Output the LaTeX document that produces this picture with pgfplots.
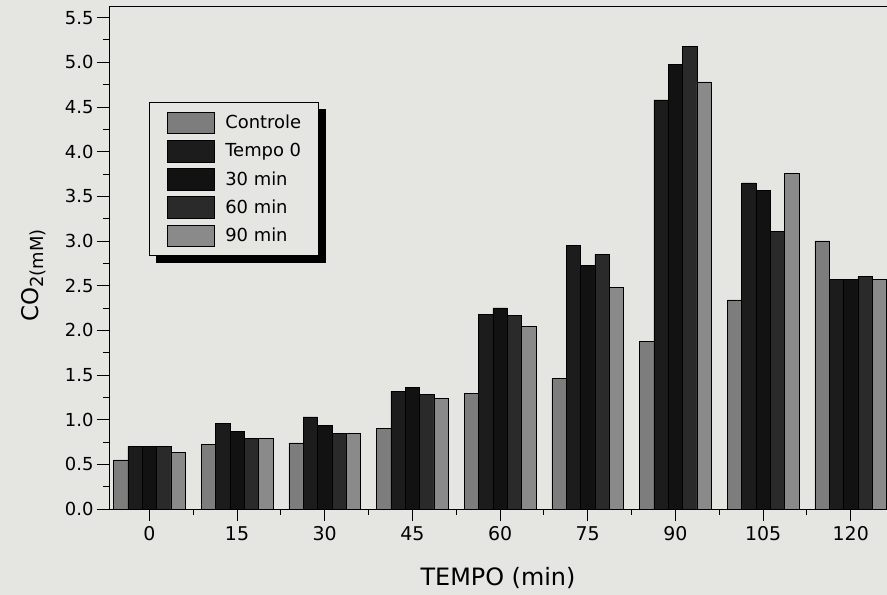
\documentclass[border=0pt]{standalone}
\usepackage{pgfplots}
\pgfplotsset{compat=1.18}
\usepackage{fontspec}
\setmainfont{DejaVu Sans}
\usepackage{xcolor}
\definecolor{bg}{RGB}{229,229,226}
\definecolor{cctrl}{RGB}{125,125,125}
\definecolor{ct0}{RGB}{28,28,28}
\definecolor{c30}{RGB}{18,18,18}
\definecolor{c60}{RGB}{42,42,42}
\definecolor{c90}{RGB}{138,138,138}
\pagecolor{bg}
\begin{document}
\begin{tikzpicture}
\begin{axis}[
  scale only axis,
  width=778bp, height=503bp,
  xmin=-6.9, xmax=126.2, ymin=0, ymax=5.63,
  axis x line*=box, axis y line*=left,
  xtick={0,15,...,120}, minor x tick num=1,
  ytick={0,0.5,...,5.5}, minor y tick num=1,
  xtick pos=bottom, ytick pos=left,
  tick align=outside,
  major tick length=12bp, minor tick length=6bp,
  every tick/.style={black, line width=0.9pt},
  axis line style={line width=0.9pt},
  /pgf/number format/assume math mode=true,
  yticklabel style={/pgf/number format/.cd, fixed, fixed zerofill, precision=1, /tikz/.cd, font=\fontsize{18}{18}\selectfont},
  xticklabel style={font=\fontsize{19}{19}\selectfont, yshift=-2bp},
  xlabel={TEMPO (min)},
  xlabel style={font=\fontsize{24}{24}\selectfont, yshift=-20bp},
  ylabel={CO\raisebox{-0.4ex}{\fontsize{18}{18}\selectfont 2(mM)}},
  ylabel style={font=\fontsize{23}{23}\selectfont, yshift=12bp, xshift=-18bp},
  ybar, bar width=2.45,
  clip=true,
  legend cell align=left,
  legend image code/.code={\draw[#1, draw=black, line width=0.6pt] (0bp,-10.8bp) rectangle (47bp,10.8bp);},
  legend style={name=leg, at={(0.0518,0.8085)}, anchor=north west,
    fill=bg, draw=black, line width=0.8pt,
    inner xsep=17bp, inner ysep=9bp, row sep=6bp,
    font=\fontsize{18}{18}\selectfont,
    nodes={inner sep=0pt},
    /tikz/every odd column/.append style={column sep=11bp}},
]
\addplot[fill=cctrl, draw=black, line width=0.6pt, bar shift=-4.9] coordinates {(0,0.55) (15,0.72) (30,0.74) (45,0.90) (60,1.29) (75,1.46) (90,1.88) (105,2.34) (120,3.00)};
\addplot[fill=ct0, draw=black, line width=0.6pt, bar shift=-2.45] coordinates {(0,0.70) (15,0.96) (30,1.03) (45,1.32) (60,2.18) (75,2.95) (90,4.58) (105,3.65) (120,2.57)};
\addplot[fill=c30, draw=black, line width=0.6pt, bar shift=0] coordinates {(0,0.70) (15,0.87) (30,0.94) (45,1.36) (60,2.25) (75,2.73) (90,4.98) (105,3.57) (120,2.57)};
\addplot[fill=c60, draw=black, line width=0.6pt, bar shift=2.45] coordinates {(0,0.70) (15,0.79) (30,0.85) (45,1.28) (60,2.17) (75,2.85) (90,5.18) (105,3.11) (120,2.60)};
\addplot[fill=c90, draw=black, line width=0.6pt, bar shift=4.9] coordinates {(0,0.63) (15,0.79) (30,0.85) (45,1.24) (60,2.04) (75,2.48) (90,4.78) (105,3.76) (120,2.57)};
\legend{Controle, Tempo 0, 30 min, 60 min, 90 min}
\end{axis}
\fill[black] ([yshift=-7bp]leg.north east) rectangle ([xshift=7bp,yshift=-7bp]leg.south east);
\fill[black] ([xshift=7bp]leg.south west) rectangle ([xshift=7bp,yshift=-7bp]leg.south east);
\pgfresetboundingbox
\path ([xshift=-109bp,yshift=-86bp]current axis.south west) rectangle ([yshift=6bp]current axis.north east);
\end{tikzpicture}
\end{document}
